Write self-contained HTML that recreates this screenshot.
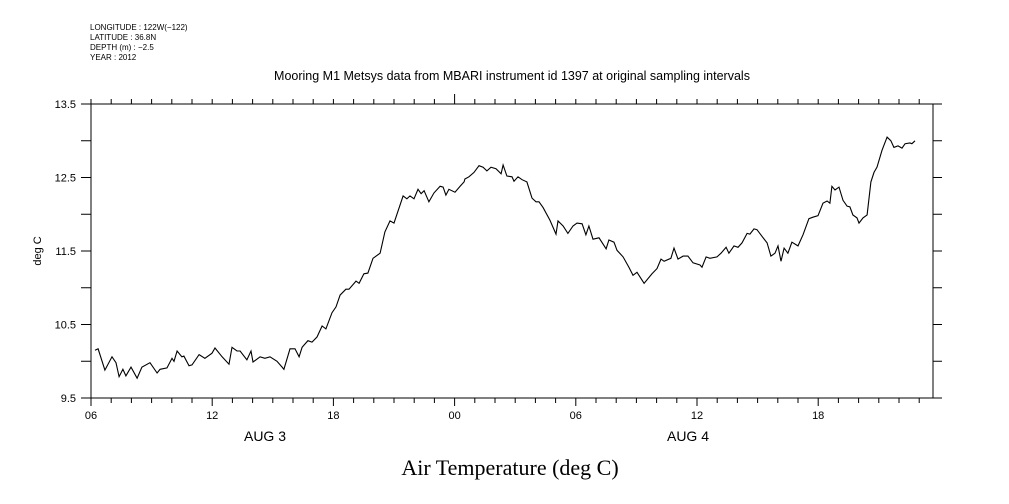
<!DOCTYPE html>
<html><head><meta charset="utf-8"><style>
body{margin:0;background:#fff;width:1009px;height:504px;overflow:hidden}
svg{display:block}
text{font-family:"Liberation Sans",sans-serif;fill:#000}
</style></head><body>
<svg id="chart" width="1009" height="504" viewBox="0 0 1009 504" xmlns="http://www.w3.org/2000/svg">
<g font-size="8">
<text x="90" y="30">LONGITUDE : 122W(−122)</text>
<text x="90" y="40">LATITUDE : 36.8N</text>
<text x="90" y="50">DEPTH (m) : −2.5</text>
<text x="90" y="60">YEAR : 2012</text>
</g>
<text x="512" y="80" text-anchor="middle" font-size="12.5">Mooring M1 Metsys data from MBARI instrument id 1397 at original sampling intervals</text>
<text transform="translate(41,251) rotate(-90)" text-anchor="middle" font-size="11">deg C</text>
<text x="510" y="475" text-anchor="middle" font-size="22" style="font-family:'Liberation Serif',serif">Air Temperature (deg C)</text>
<text x="265" y="441" text-anchor="middle" font-size="14">AUG  3</text>
<text x="688" y="441" text-anchor="middle" font-size="14">AUG  4</text>
<g id="axes"></g>
<path id="line" fill="none" stroke="#000" stroke-width="1.1"/>
</svg>
<script>
const hours=[0.20,0.35,0.69,1.04,1.24,1.39,1.58,1.73,1.98,2.28,2.52,2.92,3.27,3.42,3.76,4.01,4.11,4.26,4.50,4.60,4.85,5.00,5.35,5.64,5.99,6.14,6.49,6.83,6.98,7.23,7.38,7.72,7.92,8.02,8.37,8.61,8.86,9.21,9.46,9.55,9.85,10.10,10.30,10.45,10.74,10.94,11.19,11.44,11.63,11.93,12.13,12.33,12.62,12.77,13.12,13.27,13.51,13.71,13.96,14.31,14.55,14.80,15.00,15.45,15.64,15.79,15.99,16.19,16.34,16.49,16.73,16.98,17.28,17.43,17.57,17.72,18.02,18.27,18.47,18.51,18.71,18.96,19.21,19.41,19.60,19.80,20.05,20.30,20.40,20.59,20.84,20.94,21.14,21.34,21.58,21.83,22.03,22.18,22.38,22.72,23.02,23.12,23.37,23.61,23.86,24.06,24.31,24.50,24.65,24.85,25.15,25.50,25.64,25.89,26.04,26.34,26.63,26.83,27.03,27.38,27.77,28.02,28.22,28.37,28.71,28.86,29.06,29.31,29.55,29.80,30.15,30.25,30.45,30.64,30.99,31.19,31.44,31.58,31.83,32.03,32.23,32.48,32.62,32.82,32.97,33.22,33.47,33.66,33.86,34.01,34.16,34.31,34.50,34.70,35.00,35.25,35.54,35.74,35.99,36.24,36.44,36.58,36.68,36.83,37.03,37.23,37.43,37.57,37.72,37.92,38.02,38.22,38.42,38.61,38.76,38.91,39.16,39.41,39.60,39.75,39.95,40.15,40.30,40.54,40.64,40.79];
const temps=[10.15,10.17,9.88,10.06,9.98,9.79,9.89,9.80,9.92,9.77,9.92,9.98,9.84,9.89,9.91,10.04,10.00,10.14,10.06,10.07,9.94,9.95,10.09,10.04,10.11,10.18,10.06,9.96,10.19,10.14,10.14,10.02,10.14,9.99,10.06,10.04,10.06,10.00,9.92,9.89,10.17,10.17,10.06,10.19,10.28,10.26,10.33,10.48,10.44,10.66,10.74,10.90,10.98,10.98,11.09,11.06,11.19,11.20,11.40,11.47,11.76,11.91,11.88,12.25,12.21,12.25,12.21,12.34,12.28,12.32,12.17,12.29,12.38,12.37,12.26,12.34,12.30,12.38,12.44,12.48,12.51,12.57,12.66,12.64,12.59,12.64,12.62,12.55,12.67,12.52,12.51,12.45,12.51,12.47,12.44,12.22,12.17,12.17,12.09,11.92,11.73,11.91,11.84,11.74,11.84,11.88,11.87,11.72,11.84,11.66,11.68,11.53,11.65,11.62,11.51,11.42,11.28,11.17,11.21,11.06,11.19,11.26,11.39,11.36,11.40,11.54,11.39,11.43,11.43,11.34,11.31,11.28,11.42,11.40,11.42,11.47,11.55,11.47,11.57,11.55,11.61,11.74,11.73,11.80,11.79,11.70,11.61,11.43,11.47,11.57,11.36,11.54,11.47,11.62,11.57,11.72,11.94,11.96,11.98,12.15,12.18,12.15,12.38,12.33,12.37,12.19,12.11,12.10,11.99,11.95,11.88,11.95,11.99,12.44,12.57,12.64,12.87,13.05,13.00,12.91,12.93,12.90,12.96,12.97,12.96,13.00];
const yTickLabels=["13.5","12.5","11.5","10.5","9.5"];
const xTickLabels=["06","12","18","00","06","12","18"];
const X0=91,X1=933,Y0=104,Y1=398,PXH=20.2,TMIN=9.5,TMAX=13.5;
function xs(h){return X0+h*PXH;}
function ys(t){return Y1-(t-TMIN)/(TMAX-TMIN)*(Y1-Y0);}
const NS="http://www.w3.org/2000/svg";
const ax=document.getElementById('axes');
function ln(x1,y1,x2,y2,name){const l=document.createElementNS(NS,'line');
l.setAttribute('x1',x1);l.setAttribute('y1',y1);l.setAttribute('x2',x2);l.setAttribute('y2',y2);
l.setAttribute('stroke','#000');l.setAttribute('stroke-width','1');


ax.appendChild(l);return l;}
const fr=document.createElementNS(NS,'rect');
fr.setAttribute('x',X0);fr.setAttribute('y',Y0);fr.setAttribute('width',X1-X0);fr.setAttribute('height',Y1-Y0);
fr.setAttribute('fill','none');fr.setAttribute('stroke','#000');


ax.appendChild(fr);
const nh=Math.floor((X1-X0)/PXH);
for(let h=0;h<=nh;h++){const x=xs(h);const major=h%6===0;
ln(x,Y1,x,Y1+(major?8:5),'x-tick-bottom');
ln(x,Y0,x,Y0-(h===18?10:5),'x-tick-top');}
xTickLabels.forEach((s,i)=>{const t=document.createElementNS(NS,'text');
t.setAttribute('x',xs(i*6));t.setAttribute('y',Y1+21);t.setAttribute('text-anchor','middle');t.setAttribute('font-size','11');


t.textContent=s;ax.appendChild(t);});
for(let v=TMIN;v<=TMAX+1e-6;v+=0.5){const y=ys(v);
ln(X0-10,y,X0,y,'y-tick-left');ln(X1,y,X1+9,y,'y-tick-right');}
yTickLabels.forEach(s=>{const t=document.createElementNS(NS,'text');
t.setAttribute('x',X0-15);t.setAttribute('y',ys(parseFloat(s))+4);t.setAttribute('text-anchor','end');t.setAttribute('font-size','11');


t.textContent=s;ax.appendChild(t);});
let d='';hours.forEach((h,i)=>{d+=(i?'L':'M')+xs(h).toFixed(1)+','+ys(temps[i]).toFixed(1);});
document.getElementById('line').setAttribute('d',d);
</script>
</body></html>
